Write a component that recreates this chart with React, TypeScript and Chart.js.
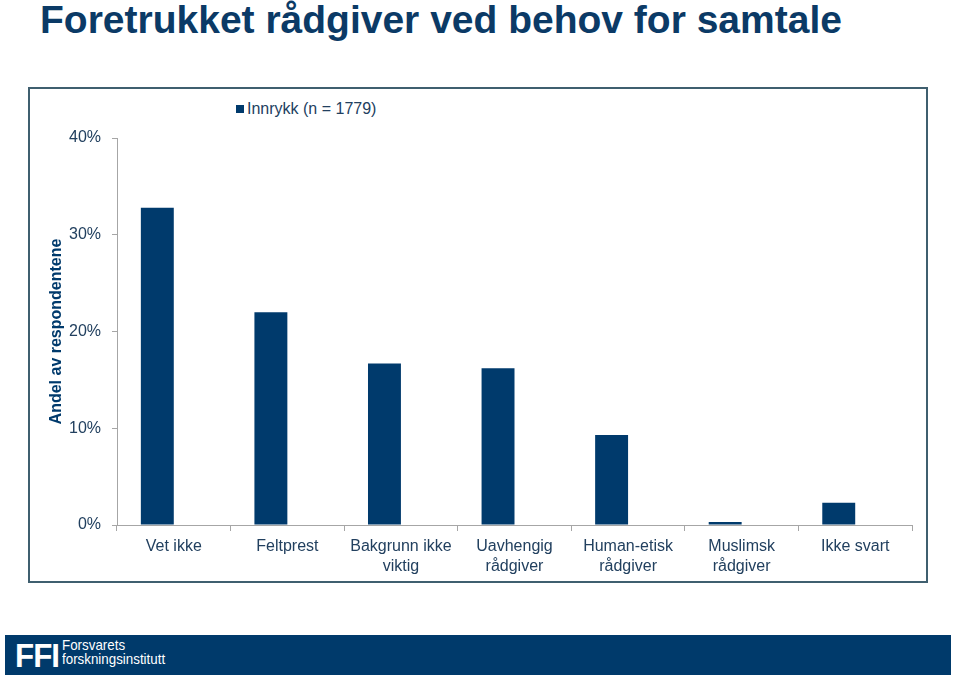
import React, { useEffect, useRef } from "react";
import { Chart, registerables } from "chart.js";

Chart.register(...registerables);

const TITLE = "Foretrukket rådgiver ved behov for samtale";
const Y_TITLE = "Andel av respondentene";
const SERIES_LABEL = "Innrykk (n = 1779)";
const categories: (string | string[])[] = [
  "Vet ikke",
  "Feltprest",
  ["Bakgrunn ikke", "viktig"],
  ["Uavhengig", "rådgiver"],
  ["Human-etisk", "rådgiver"],
  ["Muslimsk", "rådgiver"],
  "Ikke svart",
];
const innrykk = [32.8, 22.0, 16.7, 16.2, 9.3, 0.3, 2.3];
// second (empty) series slot, as in the original grouped chart
const emptySeries = [null, null, null, null, null, null, null];
const yTicks = [0, 10, 20, 30, 40];

const NAVY = "#003A6C";
const TEXT = "#22405F";
const AXIS = "#A6A6A6";
const FONT = "'Liberation Sans', Arial, sans-serif";

export default function App() {
  const ref = useRef<HTMLCanvasElement | null>(null);

  useEffect(() => {
    if (!ref.current) return;
    const chart = new Chart(ref.current, {
      type: "bar",
      data: {
        labels: categories,
        datasets: [
          {
            label: SERIES_LABEL,
            data: innrykk,
            backgroundColor: NAVY,
            borderWidth: 0,
            categoryPercentage: 0.58,
            barPercentage: 1,
          },
          {
            label: "",
            data: emptySeries as any,
            backgroundColor: "rgba(0,0,0,0)",
            borderWidth: 0,
            categoryPercentage: 0.58,
            barPercentage: 1,
          },
        ],
      },
      options: {
        responsive: false,
        animation: false,
        devicePixelRatio: 1,
        layout: { padding: { left: 43, top: 138, right: 47, bottom: 93 } },
        plugins: {
          legend: { display: false },
          title: { display: false },
          tooltip: { enabled: false },
        },
        scales: {
          x: {
            grid: {
              display: true,
              drawOnChartArea: false,
              drawTicks: true,
              tickLength: 6,
              color: AXIS,
              offset: true,
            },
            border: { display: true, color: AXIS, width: 1 },
            ticks: {
              color: TEXT,
              font: { family: FONT, size: 16, lineHeight: 1.25 },
              padding: 6,
              maxRotation: 0,
              autoSkip: false,
            },
            afterFit: (s: any) => {
              s.height = 57;
            },
          },
          y: {
            min: 0,
            max: 40,
            afterBuildTicks: (s: any) => {
              s.ticks = yTicks.map((v) => ({ value: v }));
            },
            grid: {
              display: true,
              drawOnChartArea: false,
              drawTicks: true,
              tickLength: 5,
              color: AXIS,
            },
            border: { display: true, color: AXIS, width: 1 },
            ticks: {
              color: TEXT,
              font: { family: FONT, size: 16 },
              padding: 11,
              callback: (v: any) => v + "%",
            },
            title: {
              display: true,
              text: Y_TITLE,
              color: NAVY,
              font: { family: FONT, size: 16, weight: "bold" },
              padding: { top: 4, bottom: 4 },
            },
            afterFit: (s: any) => {
              s.width = 74;
            },
          },
        },
      },
    });
    return () => chart.destroy();
  }, []);

  return (
    <div
      style={{
        position: "absolute",
        left: 0,
        top: 0,
        width: 959,
        height: 675,
        background: "#fff",
        overflow: "hidden",
        fontFamily: FONT,
      }}
    >
      <div
        style={{
          position: "absolute",
          left: 40,
          top: 0,
          fontSize: 39,
          lineHeight: "40px",
          fontWeight: "bold",
          color: "#0B3A66",
          whiteSpace: "nowrap",
        }}
      >
        {TITLE}
      </div>
      <div
        style={{
          position: "absolute",
          left: 28,
          top: 87,
          width: 896,
          height: 492,
          border: "2px solid #3F5F6F",
        }}
      />
      <div
        style={{
          position: "absolute",
          left: 236,
          top: 99,
          height: 20,
          display: "flex",
          alignItems: "center",
          fontSize: 16,
          color: TEXT,
          whiteSpace: "nowrap",
        }}
      >
        <span
          style={{
            display: "inline-block",
            width: 8,
            height: 8,
            background: NAVY,
            marginRight: 3,
          }}
        />
        {SERIES_LABEL}
      </div>
      <canvas
        ref={ref}
        width={959}
        height={675}
        style={{ position: "absolute", left: 0, top: 0, width: 959, height: 675 }}
      />
      <div
        style={{
          position: "absolute",
          left: 5,
          top: 635,
          width: 946,
          height: 40,
          background: "#003A6B",
        }}
      >
        <div
          style={{
            position: "absolute",
            left: 10,
            top: 1,
            fontSize: 34,
            lineHeight: "38px",
            fontWeight: "bold",
            color: "#fff",
            letterSpacing: -1,
            transform: "scaleX(0.92)",
            transformOrigin: "left",
          }}
        >
          FFI
        </div>
        <div
          style={{
            position: "absolute",
            left: 57,
            top: 3,
            fontSize: 15,
            lineHeight: "14px",
            color: "#fff",
            transform: "scaleX(0.89)",
            transformOrigin: "left",
          }}
        >
          Forsvarets
          <br />
          forskningsinstitutt
        </div>
      </div>
    </div>
  );
}
